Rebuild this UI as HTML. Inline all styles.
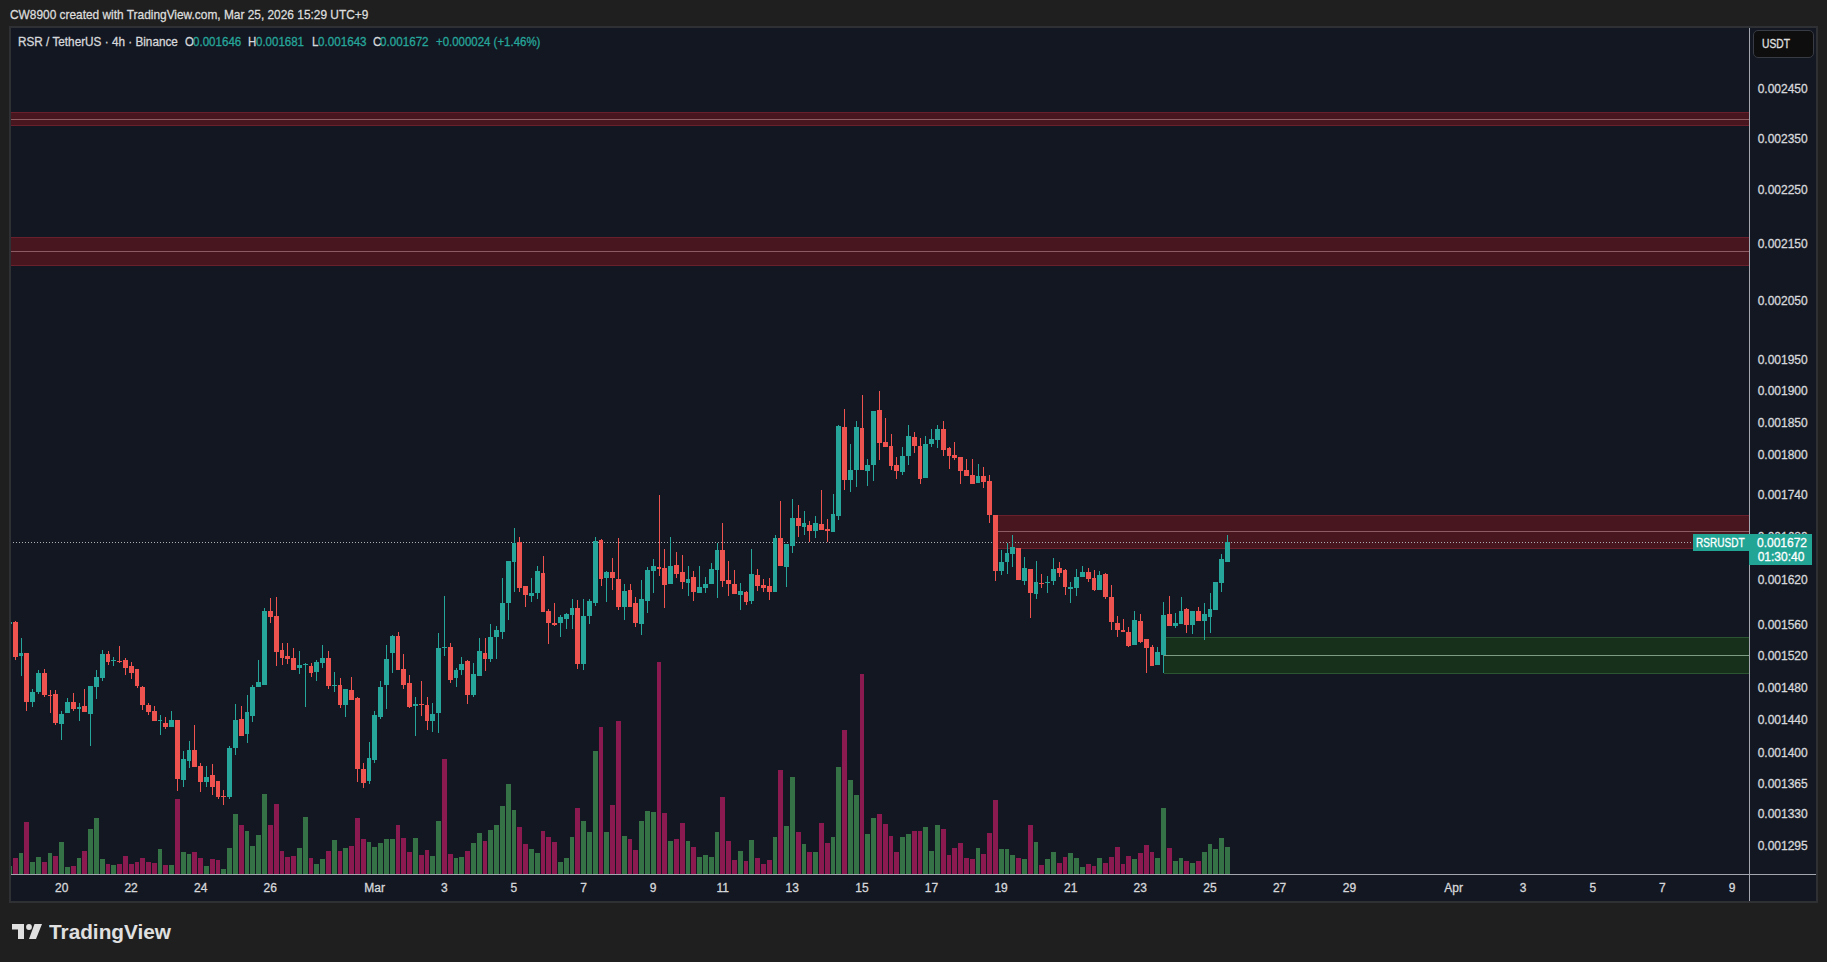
<!DOCTYPE html>
<html><head><meta charset="utf-8">
<style>
html,body{margin:0;padding:0;}
body{width:1827px;height:962px;background:#1f1f1f;position:relative;overflow:hidden;font-family:"Liberation Sans",sans-serif;}
.tx{position:absolute;white-space:nowrap;line-height:1;transform-origin:0 0;}
.frame{position:absolute;left:9px;top:26px;width:1805px;height:873px;border:2px solid #2f3034;background:#131722;}
.pl{position:absolute;left:1752.7px;width:60px;text-align:center;font-size:12px;line-height:14px;color:#d6d7da;-webkit-text-stroke:0.3px #d6d7da;}
.tl{position:absolute;top:881px;width:60px;text-align:center;font-size:12px;line-height:14px;color:#d6d7da;-webkit-text-stroke:0.3px #d6d7da;}
.usdt{position:absolute;left:1753px;top:30px;width:61px;height:28px;border:1.5px solid #383b43;border-radius:5px;background:#0e0e0e;box-sizing:border-box;}
.usdt span{position:absolute;left:7.5px;top:5.5px;font-size:12.5px;line-height:14px;color:#e0e0e0;-webkit-text-stroke:0.3px #e0e0e0;transform:scaleX(0.82);transform-origin:0 0;}
.pbox{position:absolute;left:1749px;top:534px;width:63px;height:31px;background:#22a595;}
.pbox div{position:absolute;left:0;width:63px;text-align:center;font-size:12px;line-height:14px;color:#fff;-webkit-text-stroke:0.3px #fff;}
.sbox{position:absolute;left:1693px;top:534px;width:56px;height:17px;background:#22a595;}
.sbox div{position:absolute;left:3px;top:2px;font-size:12px;line-height:14px;color:#fff;transform:scaleX(0.837);transform-origin:0 0;-webkit-text-stroke:0.3px #fff;white-space:nowrap;}
.logotxt{position:absolute;left:49px;top:920px;font-size:20.5px;font-weight:bold;color:#e0e0e0;line-height:24px;}
</style></head><body>
<div class="frame"></div>
<svg width="1827" height="962" viewBox="0 0 1827 962" style="position:absolute;left:0;top:0">
<defs><clipPath id="pc"><rect x="11" y="28" width="1738" height="846"/></clipPath></defs>
<g clip-path="url(#pc)">
<rect x="11" y="112" width="1738" height="14" fill="#47161f"/><rect x="11" y="112" width="1738" height="1" fill="#6a1f2c"/><rect x="11" y="125" width="1738" height="1" fill="#6a1f2c"/><rect x="11" y="119" width="1738" height="1" fill="#8c5c62"/><rect x="11" y="237" width="1738" height="29" fill="#47161f"/><rect x="11" y="237" width="1738" height="1" fill="#6a1f2c"/><rect x="11" y="265" width="1738" height="1" fill="#6a1f2c"/><rect x="11" y="251" width="1738" height="1" fill="#8c5c62"/><rect x="998" y="515" width="751" height="34" fill="#47161f"/><rect x="998" y="515" width="751" height="1" fill="#6a1f2c"/><rect x="998" y="548" width="751" height="1" fill="#6a1f2c"/><rect x="998" y="531" width="751" height="1" fill="#8c5c62"/><rect x="1164" y="637" width="585" height="37" fill="#17301c"/><rect x="1164" y="637" width="585" height="1" fill="#2b5431"/><rect x="1164" y="673" width="585" height="1" fill="#2b5431"/><rect x="1164" y="655" width="585" height="1" fill="#7d9a82"/>
<rect x="7" y="866" width="5" height="8" fill="#357346"/><rect x="13" y="858" width="5" height="16" fill="#8a1a4f"/><rect x="19" y="853" width="4" height="21" fill="#357346"/><rect x="24" y="822" width="5" height="52" fill="#8a1a4f"/><rect x="30" y="862" width="5" height="12" fill="#357346"/><rect x="36" y="857" width="5" height="17" fill="#357346"/><rect x="42" y="862" width="5" height="12" fill="#8a1a4f"/><rect x="48" y="853" width="4" height="21" fill="#357346"/><rect x="53" y="856" width="5" height="18" fill="#8a1a4f"/><rect x="59" y="842" width="5" height="32" fill="#357346"/><rect x="65" y="867" width="5" height="7" fill="#357346"/><rect x="71" y="866" width="5" height="8" fill="#8a1a4f"/><rect x="77" y="858" width="4" height="16" fill="#357346"/><rect x="82" y="851" width="5" height="23" fill="#8a1a4f"/><rect x="88" y="829" width="5" height="45" fill="#357346"/><rect x="94" y="818" width="5" height="56" fill="#357346"/><rect x="100" y="859" width="5" height="15" fill="#357346"/><rect x="106" y="864" width="4" height="10" fill="#8a1a4f"/><rect x="111" y="865" width="5" height="9" fill="#357346"/><rect x="117" y="864" width="5" height="10" fill="#8a1a4f"/><rect x="123" y="856" width="5" height="18" fill="#8a1a4f"/><rect x="129" y="864" width="5" height="10" fill="#8a1a4f"/><rect x="135" y="862" width="4" height="12" fill="#8a1a4f"/><rect x="140" y="858" width="5" height="16" fill="#8a1a4f"/><rect x="146" y="862" width="5" height="12" fill="#8a1a4f"/><rect x="152" y="863" width="5" height="11" fill="#8a1a4f"/><rect x="158" y="849" width="4" height="25" fill="#357346"/><rect x="163" y="865" width="5" height="9" fill="#8a1a4f"/><rect x="169" y="865" width="5" height="9" fill="#357346"/><rect x="175" y="799" width="5" height="75" fill="#8a1a4f"/><rect x="181" y="852" width="5" height="22" fill="#357346"/><rect x="187" y="854" width="4" height="20" fill="#357346"/><rect x="192" y="852" width="5" height="22" fill="#8a1a4f"/><rect x="198" y="858" width="5" height="16" fill="#8a1a4f"/><rect x="204" y="866" width="5" height="8" fill="#357346"/><rect x="210" y="859" width="5" height="15" fill="#8a1a4f"/><rect x="216" y="860" width="4" height="14" fill="#8a1a4f"/><rect x="221" y="869" width="5" height="5" fill="#357346"/><rect x="227" y="848" width="5" height="26" fill="#357346"/><rect x="233" y="814" width="5" height="60" fill="#357346"/><rect x="239" y="825" width="5" height="49" fill="#8a1a4f"/><rect x="245" y="831" width="4" height="43" fill="#357346"/><rect x="250" y="846" width="5" height="28" fill="#357346"/><rect x="256" y="835" width="5" height="39" fill="#357346"/><rect x="262" y="794" width="5" height="80" fill="#357346"/><rect x="268" y="825" width="5" height="49" fill="#8a1a4f"/><rect x="274" y="804" width="5" height="70" fill="#8a1a4f"/><rect x="280" y="851" width="4" height="23" fill="#8a1a4f"/><rect x="285" y="857" width="5" height="17" fill="#8a1a4f"/><rect x="291" y="856" width="5" height="18" fill="#8a1a4f"/><rect x="297" y="848" width="5" height="26" fill="#357346"/><rect x="303" y="817" width="5" height="57" fill="#357346"/><rect x="309" y="858" width="4" height="16" fill="#8a1a4f"/><rect x="314" y="864" width="5" height="10" fill="#357346"/><rect x="320" y="859" width="5" height="15" fill="#357346"/><rect x="326" y="851" width="5" height="23" fill="#8a1a4f"/><rect x="332" y="840" width="5" height="34" fill="#357346"/><rect x="338" y="851" width="4" height="23" fill="#8a1a4f"/><rect x="343" y="848" width="5" height="26" fill="#357346"/><rect x="349" y="846" width="5" height="28" fill="#8a1a4f"/><rect x="355" y="818" width="5" height="56" fill="#8a1a4f"/><rect x="361" y="839" width="5" height="35" fill="#8a1a4f"/><rect x="367" y="842" width="4" height="32" fill="#357346"/><rect x="372" y="847" width="5" height="27" fill="#357346"/><rect x="378" y="843" width="5" height="31" fill="#357346"/><rect x="384" y="839" width="5" height="35" fill="#357346"/><rect x="390" y="839" width="5" height="35" fill="#357346"/><rect x="396" y="825" width="4" height="49" fill="#8a1a4f"/><rect x="401" y="838" width="5" height="36" fill="#8a1a4f"/><rect x="407" y="852" width="5" height="22" fill="#8a1a4f"/><rect x="413" y="838" width="5" height="36" fill="#357346"/><rect x="419" y="855" width="5" height="19" fill="#8a1a4f"/><rect x="425" y="850" width="4" height="24" fill="#8a1a4f"/><rect x="430" y="856" width="5" height="18" fill="#357346"/><rect x="436" y="821" width="5" height="53" fill="#357346"/><rect x="442" y="759" width="5" height="115" fill="#8a1a4f"/><rect x="448" y="854" width="5" height="20" fill="#8a1a4f"/><rect x="454" y="858" width="4" height="16" fill="#357346"/><rect x="459" y="857" width="5" height="17" fill="#357346"/><rect x="465" y="851" width="5" height="23" fill="#8a1a4f"/><rect x="471" y="843" width="5" height="31" fill="#357346"/><rect x="477" y="833" width="5" height="41" fill="#357346"/><rect x="483" y="841" width="4" height="33" fill="#8a1a4f"/><rect x="488" y="830" width="5" height="44" fill="#357346"/><rect x="494" y="825" width="5" height="49" fill="#357346"/><rect x="500" y="806" width="5" height="68" fill="#357346"/><rect x="506" y="784" width="5" height="90" fill="#357346"/><rect x="512" y="810" width="4" height="64" fill="#357346"/><rect x="517" y="827" width="5" height="47" fill="#8a1a4f"/><rect x="523" y="844" width="5" height="30" fill="#8a1a4f"/><rect x="529" y="849" width="5" height="25" fill="#357346"/><rect x="535" y="853" width="5" height="21" fill="#357346"/><rect x="541" y="831" width="4" height="43" fill="#8a1a4f"/><rect x="546" y="837" width="5" height="37" fill="#8a1a4f"/><rect x="552" y="842" width="5" height="32" fill="#8a1a4f"/><rect x="558" y="862" width="5" height="12" fill="#357346"/><rect x="564" y="858" width="5" height="16" fill="#357346"/><rect x="570" y="837" width="4" height="37" fill="#357346"/><rect x="575" y="808" width="5" height="66" fill="#8a1a4f"/><rect x="581" y="821" width="5" height="53" fill="#357346"/><rect x="587" y="832" width="5" height="42" fill="#357346"/><rect x="593" y="751" width="5" height="123" fill="#357346"/><rect x="599" y="727" width="4" height="147" fill="#8a1a4f"/><rect x="604" y="832" width="5" height="42" fill="#357346"/><rect x="610" y="805" width="5" height="69" fill="#8a1a4f"/><rect x="616" y="721" width="5" height="153" fill="#8a1a4f"/><rect x="622" y="836" width="5" height="38" fill="#357346"/><rect x="628" y="839" width="4" height="35" fill="#8a1a4f"/><rect x="633" y="850" width="5" height="24" fill="#8a1a4f"/><rect x="639" y="821" width="5" height="53" fill="#357346"/><rect x="645" y="811" width="5" height="63" fill="#357346"/><rect x="651" y="812" width="5" height="62" fill="#357346"/><rect x="657" y="662" width="4" height="212" fill="#8a1a4f"/><rect x="662" y="813" width="5" height="61" fill="#8a1a4f"/><rect x="668" y="841" width="5" height="33" fill="#357346"/><rect x="674" y="839" width="5" height="35" fill="#8a1a4f"/><rect x="680" y="823" width="5" height="51" fill="#8a1a4f"/><rect x="686" y="841" width="4" height="33" fill="#357346"/><rect x="691" y="847" width="5" height="27" fill="#8a1a4f"/><rect x="697" y="857" width="5" height="17" fill="#357346"/><rect x="703" y="855" width="5" height="19" fill="#357346"/><rect x="709" y="857" width="5" height="17" fill="#357346"/><rect x="715" y="832" width="4" height="42" fill="#357346"/><rect x="720" y="797" width="5" height="77" fill="#8a1a4f"/><rect x="726" y="841" width="5" height="33" fill="#8a1a4f"/><rect x="732" y="860" width="5" height="14" fill="#8a1a4f"/><rect x="738" y="851" width="5" height="23" fill="#357346"/><rect x="744" y="861" width="4" height="13" fill="#8a1a4f"/><rect x="749" y="840" width="5" height="34" fill="#357346"/><rect x="755" y="858" width="5" height="16" fill="#8a1a4f"/><rect x="761" y="864" width="5" height="10" fill="#8a1a4f"/><rect x="767" y="860" width="5" height="14" fill="#8a1a4f"/><rect x="773" y="837" width="4" height="37" fill="#357346"/><rect x="778" y="770" width="5" height="104" fill="#8a1a4f"/><rect x="784" y="826" width="5" height="48" fill="#357346"/><rect x="790" y="777" width="5" height="97" fill="#357346"/><rect x="796" y="832" width="5" height="42" fill="#8a1a4f"/><rect x="802" y="844" width="4" height="30" fill="#357346"/><rect x="807" y="852" width="5" height="22" fill="#8a1a4f"/><rect x="813" y="852" width="5" height="22" fill="#357346"/><rect x="819" y="823" width="5" height="51" fill="#8a1a4f"/><rect x="825" y="843" width="5" height="31" fill="#8a1a4f"/><rect x="831" y="837" width="4" height="37" fill="#357346"/><rect x="836" y="767" width="5" height="107" fill="#357346"/><rect x="842" y="730" width="5" height="144" fill="#8a1a4f"/><rect x="848" y="780" width="5" height="94" fill="#357346"/><rect x="854" y="795" width="5" height="79" fill="#357346"/><rect x="860" y="674" width="4" height="200" fill="#8a1a4f"/><rect x="865" y="834" width="5" height="40" fill="#357346"/><rect x="871" y="818" width="5" height="56" fill="#357346"/><rect x="877" y="814" width="5" height="60" fill="#8a1a4f"/><rect x="883" y="824" width="5" height="50" fill="#8a1a4f"/><rect x="889" y="836" width="4" height="38" fill="#8a1a4f"/><rect x="894" y="852" width="5" height="22" fill="#8a1a4f"/><rect x="900" y="837" width="5" height="37" fill="#357346"/><rect x="906" y="834" width="5" height="40" fill="#357346"/><rect x="912" y="831" width="5" height="43" fill="#8a1a4f"/><rect x="918" y="831" width="4" height="43" fill="#8a1a4f"/><rect x="923" y="827" width="5" height="47" fill="#357346"/><rect x="929" y="851" width="5" height="23" fill="#357346"/><rect x="935" y="825" width="5" height="49" fill="#357346"/><rect x="941" y="829" width="5" height="45" fill="#8a1a4f"/><rect x="947" y="855" width="4" height="19" fill="#8a1a4f"/><rect x="952" y="848" width="5" height="26" fill="#8a1a4f"/><rect x="958" y="843" width="5" height="31" fill="#8a1a4f"/><rect x="964" y="858" width="5" height="16" fill="#8a1a4f"/><rect x="970" y="859" width="5" height="15" fill="#8a1a4f"/><rect x="976" y="848" width="4" height="26" fill="#357346"/><rect x="981" y="854" width="5" height="20" fill="#8a1a4f"/><rect x="987" y="833" width="5" height="41" fill="#8a1a4f"/><rect x="993" y="800" width="5" height="74" fill="#8a1a4f"/><rect x="999" y="849" width="5" height="25" fill="#357346"/><rect x="1005" y="849" width="4" height="25" fill="#357346"/><rect x="1010" y="855" width="5" height="19" fill="#357346"/><rect x="1016" y="858" width="5" height="16" fill="#8a1a4f"/><rect x="1022" y="859" width="5" height="15" fill="#357346"/><rect x="1028" y="825" width="5" height="49" fill="#8a1a4f"/><rect x="1034" y="842" width="4" height="32" fill="#357346"/><rect x="1039" y="865" width="5" height="9" fill="#8a1a4f"/><rect x="1045" y="859" width="5" height="15" fill="#357346"/><rect x="1051" y="852" width="5" height="22" fill="#357346"/><rect x="1057" y="863" width="5" height="11" fill="#8a1a4f"/><rect x="1063" y="857" width="4" height="17" fill="#8a1a4f"/><rect x="1068" y="853" width="5" height="21" fill="#357346"/><rect x="1074" y="858" width="5" height="16" fill="#357346"/><rect x="1080" y="867" width="5" height="7" fill="#357346"/><rect x="1086" y="864" width="5" height="10" fill="#8a1a4f"/><rect x="1092" y="866" width="4" height="8" fill="#8a1a4f"/><rect x="1097" y="858" width="5" height="16" fill="#357346"/><rect x="1103" y="863" width="5" height="11" fill="#8a1a4f"/><rect x="1109" y="857" width="5" height="17" fill="#8a1a4f"/><rect x="1115" y="847" width="5" height="27" fill="#8a1a4f"/><rect x="1121" y="864" width="4" height="10" fill="#8a1a4f"/><rect x="1126" y="856" width="5" height="18" fill="#8a1a4f"/><rect x="1132" y="859" width="5" height="15" fill="#357346"/><rect x="1138" y="853" width="5" height="21" fill="#8a1a4f"/><rect x="1144" y="845" width="5" height="29" fill="#8a1a4f"/><rect x="1150" y="852" width="4" height="22" fill="#8a1a4f"/><rect x="1155" y="858" width="5" height="16" fill="#357346"/><rect x="1161" y="808" width="5" height="66" fill="#357346"/><rect x="1167" y="848" width="5" height="26" fill="#8a1a4f"/><rect x="1173" y="861" width="5" height="13" fill="#357346"/><rect x="1179" y="858" width="4" height="16" fill="#357346"/><rect x="1184" y="861" width="5" height="13" fill="#8a1a4f"/><rect x="1190" y="863" width="5" height="11" fill="#357346"/><rect x="1196" y="861" width="5" height="13" fill="#8a1a4f"/><rect x="1202" y="852" width="5" height="22" fill="#357346"/><rect x="1208" y="844" width="4" height="30" fill="#357346"/><rect x="1213" y="849" width="5" height="25" fill="#357346"/><rect x="1219" y="838" width="5" height="36" fill="#357346"/><rect x="1225" y="847" width="5" height="27" fill="#357346"/>
<line x1="13" y1="542.5" x2="1749" y2="542.5" stroke="#aeb0b4" stroke-width="1" stroke-dasharray="1 2"/>
<rect x="9" y="622" width="1" height="2" fill="#26a69a"/><rect x="7" y="622" width="5" height="2" fill="#26a69a"/><rect x="15" y="621" width="1" height="39" fill="#ef5350"/><rect x="13" y="622" width="5" height="35" fill="#ef5350"/><rect x="21" y="638" width="1" height="38" fill="#26a69a"/><rect x="19" y="653" width="4" height="3" fill="#26a69a"/><rect x="26" y="653" width="1" height="58" fill="#ef5350"/><rect x="24" y="653" width="5" height="49" fill="#ef5350"/><rect x="32" y="689" width="1" height="18" fill="#26a69a"/><rect x="30" y="692" width="5" height="10" fill="#26a69a"/><rect x="38" y="670" width="1" height="24" fill="#26a69a"/><rect x="36" y="673" width="5" height="19" fill="#26a69a"/><rect x="44" y="669" width="1" height="28" fill="#ef5350"/><rect x="42" y="673" width="5" height="22" fill="#ef5350"/><rect x="50" y="690" width="1" height="23" fill="#ef5350"/><rect x="48" y="695" width="4" height="1" fill="#ef5350"/><rect x="55" y="690" width="1" height="35" fill="#ef5350"/><rect x="53" y="694" width="5" height="29" fill="#ef5350"/><rect x="61" y="711" width="1" height="29" fill="#26a69a"/><rect x="59" y="714" width="5" height="10" fill="#26a69a"/><rect x="67" y="698" width="1" height="15" fill="#26a69a"/><rect x="65" y="702" width="5" height="11" fill="#26a69a"/><rect x="73" y="693" width="1" height="18" fill="#ef5350"/><rect x="71" y="702" width="5" height="7" fill="#ef5350"/><rect x="79" y="703" width="1" height="18" fill="#26a69a"/><rect x="77" y="707" width="4" height="2" fill="#26a69a"/><rect x="84" y="689" width="1" height="23" fill="#ef5350"/><rect x="82" y="706" width="5" height="6" fill="#ef5350"/><rect x="90" y="686" width="1" height="60" fill="#26a69a"/><rect x="88" y="686" width="5" height="28" fill="#26a69a"/><rect x="96" y="670" width="1" height="29" fill="#26a69a"/><rect x="94" y="677" width="5" height="10" fill="#26a69a"/><rect x="102" y="650" width="1" height="31" fill="#26a69a"/><rect x="100" y="654" width="5" height="24" fill="#26a69a"/><rect x="108" y="651" width="1" height="14" fill="#ef5350"/><rect x="106" y="654" width="4" height="8" fill="#ef5350"/><rect x="113" y="657" width="1" height="9" fill="#26a69a"/><rect x="111" y="660" width="5" height="1" fill="#26a69a"/><rect x="119" y="646" width="1" height="17" fill="#ef5350"/><rect x="117" y="661" width="5" height="1" fill="#ef5350"/><rect x="125" y="658" width="1" height="17" fill="#ef5350"/><rect x="123" y="660" width="5" height="8" fill="#ef5350"/><rect x="131" y="662" width="1" height="17" fill="#ef5350"/><rect x="129" y="666" width="5" height="7" fill="#ef5350"/><rect x="137" y="669" width="1" height="19" fill="#ef5350"/><rect x="135" y="669" width="4" height="17" fill="#ef5350"/><rect x="142" y="686" width="1" height="24" fill="#ef5350"/><rect x="140" y="687" width="5" height="18" fill="#ef5350"/><rect x="148" y="703" width="1" height="12" fill="#ef5350"/><rect x="146" y="705" width="5" height="7" fill="#ef5350"/><rect x="154" y="706" width="1" height="15" fill="#ef5350"/><rect x="152" y="711" width="5" height="10" fill="#ef5350"/><rect x="160" y="715" width="1" height="20" fill="#26a69a"/><rect x="158" y="720" width="4" height="1" fill="#26a69a"/><rect x="165" y="717" width="1" height="12" fill="#ef5350"/><rect x="163" y="723" width="5" height="4" fill="#ef5350"/><rect x="171" y="711" width="1" height="16" fill="#26a69a"/><rect x="169" y="720" width="5" height="7" fill="#26a69a"/><rect x="177" y="720" width="1" height="71" fill="#ef5350"/><rect x="175" y="720" width="5" height="59" fill="#ef5350"/><rect x="183" y="751" width="1" height="36" fill="#26a69a"/><rect x="181" y="759" width="5" height="21" fill="#26a69a"/><rect x="189" y="741" width="1" height="27" fill="#26a69a"/><rect x="187" y="750" width="4" height="11" fill="#26a69a"/><rect x="194" y="725" width="1" height="42" fill="#ef5350"/><rect x="192" y="750" width="5" height="17" fill="#ef5350"/><rect x="200" y="763" width="1" height="29" fill="#ef5350"/><rect x="198" y="766" width="5" height="16" fill="#ef5350"/><rect x="206" y="766" width="1" height="21" fill="#26a69a"/><rect x="204" y="777" width="5" height="5" fill="#26a69a"/><rect x="212" y="764" width="1" height="31" fill="#ef5350"/><rect x="210" y="775" width="5" height="12" fill="#ef5350"/><rect x="218" y="781" width="1" height="18" fill="#ef5350"/><rect x="216" y="781" width="4" height="16" fill="#ef5350"/><rect x="223" y="790" width="1" height="15" fill="#ef5350"/><rect x="221" y="796" width="5" height="1" fill="#ef5350"/><rect x="229" y="746" width="1" height="53" fill="#26a69a"/><rect x="227" y="748" width="5" height="49" fill="#26a69a"/><rect x="235" y="704" width="1" height="51" fill="#26a69a"/><rect x="233" y="720" width="5" height="28" fill="#26a69a"/><rect x="241" y="706" width="1" height="30" fill="#ef5350"/><rect x="239" y="719" width="5" height="17" fill="#ef5350"/><rect x="247" y="695" width="1" height="48" fill="#26a69a"/><rect x="245" y="712" width="4" height="22" fill="#26a69a"/><rect x="252" y="685" width="1" height="37" fill="#26a69a"/><rect x="250" y="687" width="5" height="29" fill="#26a69a"/><rect x="258" y="660" width="1" height="27" fill="#26a69a"/><rect x="256" y="682" width="5" height="5" fill="#26a69a"/><rect x="264" y="608" width="1" height="77" fill="#26a69a"/><rect x="262" y="611" width="5" height="74" fill="#26a69a"/><rect x="270" y="598" width="1" height="25" fill="#ef5350"/><rect x="268" y="611" width="5" height="6" fill="#ef5350"/><rect x="276" y="597" width="1" height="69" fill="#ef5350"/><rect x="274" y="616" width="5" height="36" fill="#ef5350"/><rect x="282" y="643" width="1" height="22" fill="#ef5350"/><rect x="280" y="650" width="4" height="8" fill="#ef5350"/><rect x="287" y="643" width="1" height="21" fill="#ef5350"/><rect x="285" y="656" width="5" height="3" fill="#ef5350"/><rect x="293" y="648" width="1" height="22" fill="#ef5350"/><rect x="291" y="658" width="5" height="12" fill="#ef5350"/><rect x="299" y="651" width="1" height="23" fill="#26a69a"/><rect x="297" y="665" width="5" height="3" fill="#26a69a"/><rect x="305" y="663" width="1" height="44" fill="#26a69a"/><rect x="303" y="664" width="5" height="1" fill="#26a69a"/><rect x="311" y="663" width="1" height="14" fill="#ef5350"/><rect x="309" y="666" width="4" height="7" fill="#ef5350"/><rect x="316" y="660" width="1" height="21" fill="#26a69a"/><rect x="314" y="662" width="5" height="10" fill="#26a69a"/><rect x="322" y="645" width="1" height="23" fill="#26a69a"/><rect x="320" y="658" width="5" height="5" fill="#26a69a"/><rect x="328" y="651" width="1" height="38" fill="#ef5350"/><rect x="326" y="658" width="5" height="28" fill="#ef5350"/><rect x="334" y="672" width="1" height="20" fill="#26a69a"/><rect x="332" y="685" width="5" height="1" fill="#26a69a"/><rect x="340" y="678" width="1" height="30" fill="#ef5350"/><rect x="338" y="685" width="4" height="20" fill="#ef5350"/><rect x="345" y="689" width="1" height="28" fill="#26a69a"/><rect x="343" y="689" width="5" height="16" fill="#26a69a"/><rect x="351" y="677" width="1" height="23" fill="#ef5350"/><rect x="349" y="690" width="5" height="10" fill="#ef5350"/><rect x="357" y="697" width="1" height="85" fill="#ef5350"/><rect x="355" y="698" width="5" height="71" fill="#ef5350"/><rect x="363" y="763" width="1" height="25" fill="#ef5350"/><rect x="361" y="769" width="5" height="14" fill="#ef5350"/><rect x="369" y="742" width="1" height="42" fill="#26a69a"/><rect x="367" y="758" width="4" height="23" fill="#26a69a"/><rect x="374" y="711" width="1" height="52" fill="#26a69a"/><rect x="372" y="715" width="5" height="45" fill="#26a69a"/><rect x="380" y="681" width="1" height="38" fill="#26a69a"/><rect x="378" y="687" width="5" height="30" fill="#26a69a"/><rect x="386" y="645" width="1" height="64" fill="#26a69a"/><rect x="384" y="659" width="5" height="26" fill="#26a69a"/><rect x="392" y="635" width="1" height="38" fill="#26a69a"/><rect x="390" y="636" width="5" height="17" fill="#26a69a"/><rect x="398" y="632" width="1" height="38" fill="#ef5350"/><rect x="396" y="636" width="4" height="34" fill="#ef5350"/><rect x="403" y="654" width="1" height="35" fill="#ef5350"/><rect x="401" y="669" width="5" height="16" fill="#ef5350"/><rect x="409" y="675" width="1" height="33" fill="#ef5350"/><rect x="407" y="683" width="5" height="24" fill="#ef5350"/><rect x="415" y="697" width="1" height="39" fill="#26a69a"/><rect x="413" y="704" width="5" height="2" fill="#26a69a"/><rect x="421" y="681" width="1" height="35" fill="#ef5350"/><rect x="419" y="704" width="5" height="1" fill="#ef5350"/><rect x="427" y="697" width="1" height="33" fill="#ef5350"/><rect x="425" y="705" width="4" height="16" fill="#ef5350"/><rect x="432" y="703" width="1" height="29" fill="#26a69a"/><rect x="430" y="714" width="5" height="7" fill="#26a69a"/><rect x="438" y="633" width="1" height="100" fill="#26a69a"/><rect x="436" y="648" width="5" height="65" fill="#26a69a"/><rect x="444" y="596" width="1" height="60" fill="#26a69a"/><rect x="442" y="647" width="5" height="1" fill="#26a69a"/><rect x="450" y="643" width="1" height="40" fill="#ef5350"/><rect x="448" y="647" width="5" height="33" fill="#ef5350"/><rect x="456" y="668" width="1" height="19" fill="#26a69a"/><rect x="454" y="670" width="4" height="8" fill="#26a69a"/><rect x="461" y="657" width="1" height="18" fill="#26a69a"/><rect x="459" y="664" width="5" height="6" fill="#26a69a"/><rect x="467" y="660" width="1" height="44" fill="#ef5350"/><rect x="465" y="661" width="5" height="34" fill="#ef5350"/><rect x="473" y="663" width="1" height="34" fill="#26a69a"/><rect x="471" y="674" width="5" height="21" fill="#26a69a"/><rect x="479" y="638" width="1" height="38" fill="#26a69a"/><rect x="477" y="651" width="5" height="25" fill="#26a69a"/><rect x="485" y="638" width="1" height="33" fill="#ef5350"/><rect x="483" y="653" width="4" height="6" fill="#ef5350"/><rect x="490" y="624" width="1" height="38" fill="#26a69a"/><rect x="488" y="637" width="5" height="22" fill="#26a69a"/><rect x="496" y="626" width="1" height="33" fill="#26a69a"/><rect x="494" y="630" width="5" height="7" fill="#26a69a"/><rect x="502" y="578" width="1" height="61" fill="#26a69a"/><rect x="500" y="603" width="5" height="29" fill="#26a69a"/><rect x="508" y="561" width="1" height="59" fill="#26a69a"/><rect x="506" y="561" width="5" height="42" fill="#26a69a"/><rect x="514" y="528" width="1" height="64" fill="#26a69a"/><rect x="512" y="543" width="4" height="19" fill="#26a69a"/><rect x="519" y="537" width="1" height="55" fill="#ef5350"/><rect x="517" y="542" width="5" height="46" fill="#ef5350"/><rect x="525" y="586" width="1" height="21" fill="#ef5350"/><rect x="523" y="586" width="5" height="9" fill="#ef5350"/><rect x="531" y="578" width="1" height="24" fill="#26a69a"/><rect x="529" y="593" width="5" height="3" fill="#26a69a"/><rect x="537" y="566" width="1" height="33" fill="#26a69a"/><rect x="535" y="571" width="5" height="22" fill="#26a69a"/><rect x="543" y="556" width="1" height="56" fill="#ef5350"/><rect x="541" y="573" width="4" height="39" fill="#ef5350"/><rect x="548" y="609" width="1" height="35" fill="#ef5350"/><rect x="546" y="611" width="5" height="12" fill="#ef5350"/><rect x="554" y="603" width="1" height="23" fill="#ef5350"/><rect x="552" y="623" width="5" height="2" fill="#ef5350"/><rect x="560" y="615" width="1" height="22" fill="#26a69a"/><rect x="558" y="617" width="5" height="6" fill="#26a69a"/><rect x="566" y="613" width="1" height="16" fill="#26a69a"/><rect x="564" y="614" width="5" height="5" fill="#26a69a"/><rect x="572" y="599" width="1" height="30" fill="#26a69a"/><rect x="570" y="608" width="4" height="7" fill="#26a69a"/><rect x="577" y="600" width="1" height="69" fill="#ef5350"/><rect x="575" y="608" width="5" height="56" fill="#ef5350"/><rect x="583" y="599" width="1" height="71" fill="#26a69a"/><rect x="581" y="616" width="5" height="48" fill="#26a69a"/><rect x="589" y="599" width="1" height="25" fill="#26a69a"/><rect x="587" y="601" width="5" height="15" fill="#26a69a"/><rect x="595" y="537" width="1" height="69" fill="#26a69a"/><rect x="593" y="541" width="5" height="62" fill="#26a69a"/><rect x="601" y="539" width="1" height="47" fill="#ef5350"/><rect x="599" y="540" width="4" height="39" fill="#ef5350"/><rect x="606" y="571" width="1" height="31" fill="#26a69a"/><rect x="604" y="572" width="5" height="6" fill="#26a69a"/><rect x="612" y="558" width="1" height="32" fill="#ef5350"/><rect x="610" y="572" width="5" height="6" fill="#ef5350"/><rect x="618" y="538" width="1" height="72" fill="#ef5350"/><rect x="616" y="579" width="5" height="28" fill="#ef5350"/><rect x="624" y="584" width="1" height="36" fill="#26a69a"/><rect x="622" y="591" width="5" height="16" fill="#26a69a"/><rect x="630" y="584" width="1" height="23" fill="#ef5350"/><rect x="628" y="590" width="4" height="17" fill="#ef5350"/><rect x="635" y="597" width="1" height="30" fill="#ef5350"/><rect x="633" y="603" width="5" height="20" fill="#ef5350"/><rect x="641" y="580" width="1" height="55" fill="#26a69a"/><rect x="639" y="599" width="5" height="25" fill="#26a69a"/><rect x="647" y="567" width="1" height="46" fill="#26a69a"/><rect x="645" y="570" width="5" height="31" fill="#26a69a"/><rect x="653" y="559" width="1" height="34" fill="#26a69a"/><rect x="651" y="566" width="5" height="5" fill="#26a69a"/><rect x="659" y="495" width="1" height="81" fill="#ef5350"/><rect x="657" y="567" width="4" height="2" fill="#ef5350"/><rect x="664" y="549" width="1" height="59" fill="#ef5350"/><rect x="662" y="568" width="5" height="17" fill="#ef5350"/><rect x="670" y="537" width="1" height="47" fill="#26a69a"/><rect x="668" y="566" width="5" height="18" fill="#26a69a"/><rect x="676" y="552" width="1" height="26" fill="#ef5350"/><rect x="674" y="565" width="5" height="9" fill="#ef5350"/><rect x="682" y="555" width="1" height="34" fill="#ef5350"/><rect x="680" y="572" width="5" height="10" fill="#ef5350"/><rect x="688" y="566" width="1" height="30" fill="#26a69a"/><rect x="686" y="579" width="4" height="4" fill="#26a69a"/><rect x="693" y="571" width="1" height="30" fill="#ef5350"/><rect x="691" y="577" width="5" height="15" fill="#ef5350"/><rect x="699" y="566" width="1" height="27" fill="#26a69a"/><rect x="697" y="587" width="5" height="6" fill="#26a69a"/><rect x="705" y="577" width="1" height="16" fill="#26a69a"/><rect x="703" y="584" width="5" height="4" fill="#26a69a"/><rect x="711" y="563" width="1" height="21" fill="#26a69a"/><rect x="709" y="569" width="5" height="15" fill="#26a69a"/><rect x="717" y="543" width="1" height="55" fill="#26a69a"/><rect x="715" y="550" width="4" height="20" fill="#26a69a"/><rect x="722" y="523" width="1" height="64" fill="#ef5350"/><rect x="720" y="550" width="5" height="31" fill="#ef5350"/><rect x="728" y="561" width="1" height="35" fill="#ef5350"/><rect x="726" y="580" width="5" height="4" fill="#ef5350"/><rect x="734" y="570" width="1" height="24" fill="#ef5350"/><rect x="732" y="584" width="5" height="10" fill="#ef5350"/><rect x="740" y="583" width="1" height="27" fill="#26a69a"/><rect x="738" y="591" width="5" height="4" fill="#26a69a"/><rect x="746" y="591" width="1" height="14" fill="#ef5350"/><rect x="744" y="592" width="4" height="10" fill="#ef5350"/><rect x="751" y="549" width="1" height="55" fill="#26a69a"/><rect x="749" y="574" width="5" height="27" fill="#26a69a"/><rect x="757" y="569" width="1" height="22" fill="#ef5350"/><rect x="755" y="575" width="5" height="11" fill="#ef5350"/><rect x="763" y="579" width="1" height="13" fill="#ef5350"/><rect x="761" y="585" width="5" height="3" fill="#ef5350"/><rect x="769" y="578" width="1" height="22" fill="#ef5350"/><rect x="767" y="586" width="5" height="6" fill="#ef5350"/><rect x="775" y="535" width="1" height="57" fill="#26a69a"/><rect x="773" y="538" width="4" height="54" fill="#26a69a"/><rect x="780" y="501" width="1" height="65" fill="#ef5350"/><rect x="778" y="538" width="5" height="28" fill="#ef5350"/><rect x="786" y="544" width="1" height="43" fill="#26a69a"/><rect x="784" y="544" width="5" height="23" fill="#26a69a"/><rect x="792" y="499" width="1" height="54" fill="#26a69a"/><rect x="790" y="518" width="5" height="28" fill="#26a69a"/><rect x="798" y="505" width="1" height="32" fill="#ef5350"/><rect x="796" y="518" width="5" height="8" fill="#ef5350"/><rect x="804" y="511" width="1" height="24" fill="#26a69a"/><rect x="802" y="523" width="4" height="4" fill="#26a69a"/><rect x="809" y="521" width="1" height="21" fill="#ef5350"/><rect x="807" y="525" width="5" height="6" fill="#ef5350"/><rect x="815" y="516" width="1" height="22" fill="#26a69a"/><rect x="813" y="523" width="5" height="8" fill="#26a69a"/><rect x="821" y="490" width="1" height="40" fill="#ef5350"/><rect x="819" y="524" width="5" height="6" fill="#ef5350"/><rect x="827" y="519" width="1" height="23" fill="#ef5350"/><rect x="825" y="529" width="5" height="2" fill="#ef5350"/><rect x="833" y="494" width="1" height="38" fill="#26a69a"/><rect x="831" y="514" width="4" height="18" fill="#26a69a"/><rect x="838" y="425" width="1" height="95" fill="#26a69a"/><rect x="836" y="426" width="5" height="90" fill="#26a69a"/><rect x="844" y="409" width="1" height="81" fill="#ef5350"/><rect x="842" y="427" width="5" height="53" fill="#ef5350"/><rect x="850" y="444" width="1" height="48" fill="#26a69a"/><rect x="848" y="470" width="5" height="10" fill="#26a69a"/><rect x="856" y="421" width="1" height="66" fill="#26a69a"/><rect x="854" y="427" width="5" height="43" fill="#26a69a"/><rect x="862" y="395" width="1" height="75" fill="#ef5350"/><rect x="860" y="428" width="4" height="42" fill="#ef5350"/><rect x="867" y="459" width="1" height="27" fill="#26a69a"/><rect x="865" y="465" width="5" height="6" fill="#26a69a"/><rect x="873" y="411" width="1" height="70" fill="#26a69a"/><rect x="871" y="411" width="5" height="54" fill="#26a69a"/><rect x="879" y="391" width="1" height="69" fill="#ef5350"/><rect x="877" y="410" width="5" height="33" fill="#ef5350"/><rect x="885" y="418" width="1" height="29" fill="#ef5350"/><rect x="883" y="442" width="5" height="5" fill="#ef5350"/><rect x="891" y="434" width="1" height="36" fill="#ef5350"/><rect x="889" y="446" width="4" height="20" fill="#ef5350"/><rect x="896" y="457" width="1" height="22" fill="#ef5350"/><rect x="894" y="465" width="5" height="6" fill="#ef5350"/><rect x="902" y="447" width="1" height="28" fill="#26a69a"/><rect x="900" y="456" width="5" height="16" fill="#26a69a"/><rect x="908" y="425" width="1" height="40" fill="#26a69a"/><rect x="906" y="436" width="5" height="20" fill="#26a69a"/><rect x="914" y="432" width="1" height="21" fill="#ef5350"/><rect x="912" y="437" width="5" height="9" fill="#ef5350"/><rect x="920" y="438" width="1" height="46" fill="#ef5350"/><rect x="918" y="446" width="4" height="33" fill="#ef5350"/><rect x="925" y="436" width="1" height="42" fill="#26a69a"/><rect x="923" y="444" width="5" height="34" fill="#26a69a"/><rect x="931" y="429" width="1" height="18" fill="#26a69a"/><rect x="929" y="439" width="5" height="5" fill="#26a69a"/><rect x="937" y="425" width="1" height="23" fill="#26a69a"/><rect x="935" y="429" width="5" height="11" fill="#26a69a"/><rect x="943" y="421" width="1" height="35" fill="#ef5350"/><rect x="941" y="429" width="5" height="21" fill="#ef5350"/><rect x="949" y="447" width="1" height="22" fill="#ef5350"/><rect x="947" y="448" width="4" height="8" fill="#ef5350"/><rect x="954" y="442" width="1" height="18" fill="#ef5350"/><rect x="952" y="455" width="5" height="3" fill="#ef5350"/><rect x="960" y="457" width="1" height="27" fill="#ef5350"/><rect x="958" y="457" width="5" height="14" fill="#ef5350"/><rect x="966" y="459" width="1" height="17" fill="#ef5350"/><rect x="964" y="470" width="5" height="6" fill="#ef5350"/><rect x="972" y="459" width="1" height="25" fill="#ef5350"/><rect x="970" y="475" width="5" height="9" fill="#ef5350"/><rect x="978" y="464" width="1" height="19" fill="#26a69a"/><rect x="976" y="476" width="4" height="7" fill="#26a69a"/><rect x="983" y="467" width="1" height="21" fill="#ef5350"/><rect x="981" y="476" width="5" height="6" fill="#ef5350"/><rect x="989" y="475" width="1" height="48" fill="#ef5350"/><rect x="987" y="481" width="5" height="34" fill="#ef5350"/><rect x="995" y="515" width="1" height="66" fill="#ef5350"/><rect x="993" y="515" width="5" height="56" fill="#ef5350"/><rect x="1001" y="550" width="1" height="25" fill="#26a69a"/><rect x="999" y="562" width="5" height="9" fill="#26a69a"/><rect x="1007" y="543" width="1" height="31" fill="#26a69a"/><rect x="1005" y="553" width="4" height="9" fill="#26a69a"/><rect x="1012" y="535" width="1" height="32" fill="#26a69a"/><rect x="1010" y="547" width="5" height="7" fill="#26a69a"/><rect x="1018" y="548" width="1" height="32" fill="#ef5350"/><rect x="1016" y="548" width="5" height="32" fill="#ef5350"/><rect x="1024" y="557" width="1" height="28" fill="#26a69a"/><rect x="1022" y="568" width="5" height="13" fill="#26a69a"/><rect x="1030" y="569" width="1" height="49" fill="#ef5350"/><rect x="1028" y="569" width="5" height="24" fill="#ef5350"/><rect x="1036" y="561" width="1" height="38" fill="#26a69a"/><rect x="1034" y="582" width="4" height="12" fill="#26a69a"/><rect x="1041" y="574" width="1" height="14" fill="#ef5350"/><rect x="1039" y="583" width="5" height="1" fill="#ef5350"/><rect x="1047" y="576" width="1" height="17" fill="#26a69a"/><rect x="1045" y="582" width="5" height="1" fill="#26a69a"/><rect x="1053" y="558" width="1" height="27" fill="#26a69a"/><rect x="1051" y="569" width="5" height="12" fill="#26a69a"/><rect x="1059" y="562" width="1" height="15" fill="#ef5350"/><rect x="1057" y="568" width="5" height="5" fill="#ef5350"/><rect x="1065" y="569" width="1" height="26" fill="#ef5350"/><rect x="1063" y="570" width="4" height="17" fill="#ef5350"/><rect x="1070" y="582" width="1" height="21" fill="#26a69a"/><rect x="1068" y="587" width="5" height="2" fill="#26a69a"/><rect x="1076" y="569" width="1" height="27" fill="#26a69a"/><rect x="1074" y="577" width="5" height="11" fill="#26a69a"/><rect x="1082" y="566" width="1" height="11" fill="#26a69a"/><rect x="1080" y="572" width="5" height="5" fill="#26a69a"/><rect x="1088" y="568" width="1" height="14" fill="#ef5350"/><rect x="1086" y="572" width="5" height="7" fill="#ef5350"/><rect x="1094" y="570" width="1" height="21" fill="#ef5350"/><rect x="1092" y="578" width="4" height="12" fill="#ef5350"/><rect x="1099" y="571" width="1" height="19" fill="#26a69a"/><rect x="1097" y="575" width="5" height="15" fill="#26a69a"/><rect x="1105" y="573" width="1" height="26" fill="#ef5350"/><rect x="1103" y="574" width="5" height="23" fill="#ef5350"/><rect x="1111" y="585" width="1" height="45" fill="#ef5350"/><rect x="1109" y="597" width="5" height="25" fill="#ef5350"/><rect x="1117" y="616" width="1" height="21" fill="#ef5350"/><rect x="1115" y="623" width="5" height="7" fill="#ef5350"/><rect x="1123" y="619" width="1" height="13" fill="#ef5350"/><rect x="1121" y="630" width="4" height="2" fill="#ef5350"/><rect x="1128" y="627" width="1" height="20" fill="#ef5350"/><rect x="1126" y="632" width="5" height="14" fill="#ef5350"/><rect x="1134" y="611" width="1" height="34" fill="#26a69a"/><rect x="1132" y="620" width="5" height="25" fill="#26a69a"/><rect x="1140" y="614" width="1" height="29" fill="#ef5350"/><rect x="1138" y="621" width="5" height="21" fill="#ef5350"/><rect x="1146" y="639" width="1" height="34" fill="#ef5350"/><rect x="1144" y="639" width="5" height="9" fill="#ef5350"/><rect x="1152" y="645" width="1" height="21" fill="#ef5350"/><rect x="1150" y="647" width="4" height="19" fill="#ef5350"/><rect x="1157" y="647" width="1" height="18" fill="#26a69a"/><rect x="1155" y="652" width="5" height="13" fill="#26a69a"/><rect x="1163" y="602" width="1" height="71" fill="#26a69a"/><rect x="1161" y="615" width="5" height="40" fill="#26a69a"/><rect x="1169" y="596" width="1" height="30" fill="#ef5350"/><rect x="1167" y="614" width="5" height="12" fill="#ef5350"/><rect x="1175" y="613" width="1" height="15" fill="#26a69a"/><rect x="1173" y="623" width="5" height="3" fill="#26a69a"/><rect x="1181" y="597" width="1" height="27" fill="#26a69a"/><rect x="1179" y="611" width="4" height="13" fill="#26a69a"/><rect x="1186" y="608" width="1" height="25" fill="#ef5350"/><rect x="1184" y="609" width="5" height="16" fill="#ef5350"/><rect x="1192" y="611" width="1" height="23" fill="#26a69a"/><rect x="1190" y="611" width="5" height="14" fill="#26a69a"/><rect x="1198" y="607" width="1" height="14" fill="#ef5350"/><rect x="1196" y="611" width="5" height="10" fill="#ef5350"/><rect x="1204" y="603" width="1" height="37" fill="#26a69a"/><rect x="1202" y="614" width="5" height="7" fill="#26a69a"/><rect x="1210" y="593" width="1" height="40" fill="#26a69a"/><rect x="1208" y="609" width="4" height="8" fill="#26a69a"/><rect x="1215" y="582" width="1" height="28" fill="#26a69a"/><rect x="1213" y="582" width="5" height="28" fill="#26a69a"/><rect x="1221" y="554" width="1" height="38" fill="#26a69a"/><rect x="1219" y="559" width="5" height="24" fill="#26a69a"/><rect x="1227" y="535" width="1" height="27" fill="#26a69a"/><rect x="1225" y="542" width="5" height="20" fill="#26a69a"/>
</g>
<rect x="1749" y="28" width="1" height="873" fill="#a3a6ae"/>
<rect x="11" y="874" width="1805" height="1" fill="#a3a6ae"/>
</svg>
<div id="hdr" class="tx" style="left:10.20px;top:8.47px;font-size:13px;color:#dcdcdc;font-weight:normal;transform:scaleX(0.9146);-webkit-text-stroke:0.3px #dcdcdc;">CW8900 created with TradingView.com, Mar 25, 2026 15:29 UTC+9</div><div id="lg1" class="tx" style="left:17.50px;top:35.63px;font-size:12.5px;color:#d6d7da;font-weight:normal;transform:scaleX(0.9407);-webkit-text-stroke:0.3px #d6d7da;">RSR / TetherUS · 4h · Binance</div><div id="lgO" class="tx" style="left:184.50px;top:35.63px;font-size:12.5px;color:#d6d7da;font-weight:normal;transform:scaleX(0.9155);-webkit-text-stroke:0.3px #d6d7da;">O</div><div id="lgOv" class="tx" style="left:192.60px;top:35.63px;font-size:12.5px;color:#26a69a;font-weight:normal;transform:scaleX(0.9264);-webkit-text-stroke:0.3px #26a69a;">0.001646</div><div id="lgH" class="tx" style="left:248.10px;top:35.63px;font-size:12.5px;color:#d6d7da;font-weight:normal;transform:scaleX(0.9205);-webkit-text-stroke:0.3px #d6d7da;">H</div><div id="lgHv" class="tx" style="left:256.20px;top:35.63px;font-size:12.5px;color:#26a69a;font-weight:normal;transform:scaleX(0.9207);-webkit-text-stroke:0.3px #26a69a;">0.001681</div><div id="lgL" class="tx" style="left:312.00px;top:35.63px;font-size:12.5px;color:#d6d7da;font-weight:normal;transform:scaleX(0.9229);-webkit-text-stroke:0.3px #d6d7da;">L</div><div id="lgLv" class="tx" style="left:318.00px;top:35.63px;font-size:12.5px;color:#26a69a;font-weight:normal;transform:scaleX(0.9321);-webkit-text-stroke:0.3px #26a69a;">0.001643</div><div id="lgC" class="tx" style="left:373.10px;top:35.63px;font-size:12.5px;color:#d6d7da;font-weight:normal;transform:scaleX(0.9205);-webkit-text-stroke:0.3px #d6d7da;">C</div><div id="lgCv" class="tx" style="left:380.40px;top:35.63px;font-size:12.5px;color:#26a69a;font-weight:normal;transform:scaleX(0.9321);-webkit-text-stroke:0.3px #26a69a;">0.001672</div><div id="lgCh" class="tx" style="left:436.20px;top:35.63px;font-size:12.5px;color:#26a69a;font-weight:normal;transform:scaleX(0.9159);-webkit-text-stroke:0.3px #26a69a;">+0.000024 (+1.46%)</div><div id="logo" class="tx" style="left:49.20px;top:920.73px;font-size:21px;color:#e0e0e0;font-weight:bold;transform:scaleX(0.9891);">TradingView</div>
<div class="usdt"><span>USDT</span></div>
<div class="pl" style="top:82.0px">0.002450</div><div class="pl" style="top:131.5px">0.002350</div><div class="pl" style="top:183.1px">0.002250</div><div class="pl" style="top:237.1px">0.002150</div><div class="pl" style="top:293.6px">0.002050</div><div class="pl" style="top:353.0px">0.001950</div><div class="pl" style="top:383.9px">0.001900</div><div class="pl" style="top:415.5px">0.001850</div><div class="pl" style="top:448.0px">0.001800</div><div class="pl" style="top:488.3px">0.001740</div><div class="pl" style="top:530.0px">0.001680</div><div class="pl" style="top:573.1px">0.001620</div><div class="pl" style="top:617.9px">0.001560</div><div class="pl" style="top:648.8px">0.001520</div><div class="pl" style="top:680.5px">0.001480</div><div class="pl" style="top:713.0px">0.001440</div><div class="pl" style="top:746.4px">0.001400</div><div class="pl" style="top:776.5px">0.001365</div><div class="pl" style="top:807.3px">0.001330</div><div class="pl" style="top:839.0px">0.001295</div>
<div class="tl" style="left:31.7px">20</div><div class="tl" style="left:101.1px">22</div><div class="tl" style="left:170.7px">24</div><div class="tl" style="left:240.3px">26</div><div class="tl" style="left:344.7px">Mar</div><div class="tl" style="left:414.3px">3</div><div class="tl" style="left:483.9px">5</div><div class="tl" style="left:553.5px">7</div><div class="tl" style="left:623.1px">9</div><div class="tl" style="left:692.7px">11</div><div class="tl" style="left:762.3px">13</div><div class="tl" style="left:831.9px">15</div><div class="tl" style="left:901.5px">17</div><div class="tl" style="left:971.1px">19</div><div class="tl" style="left:1040.7px">21</div><div class="tl" style="left:1110.3px">23</div><div class="tl" style="left:1180.0px">25</div><div class="tl" style="left:1249.6px">27</div><div class="tl" style="left:1319.4px">29</div><div class="tl" style="left:1423.6px">Apr</div><div class="tl" style="left:1493.2px">3</div><div class="tl" style="left:1562.8px">5</div><div class="tl" style="left:1632.4px">7</div><div class="tl" style="left:1702.0px">9</div>
<div class="sbox"><div>RSRUSDT</div></div>
<div class="pbox"><div style="top:2px;left:1.5px">0.001672</div><div style="top:16px;left:0.5px">01:30:40</div></div>
<svg width="32" height="16" viewBox="0 0 32 16" style="position:absolute;left:12px;top:924px">
<path d="M0 0H12V15H6V5.5H0Z" fill="#e0e0e0"/>
<circle cx="17" cy="3" r="2.9" fill="#e0e0e0"/>
<path d="M22.5 0H30L24 15H17Z" fill="#e0e0e0"/>
</svg>
</body></html>
